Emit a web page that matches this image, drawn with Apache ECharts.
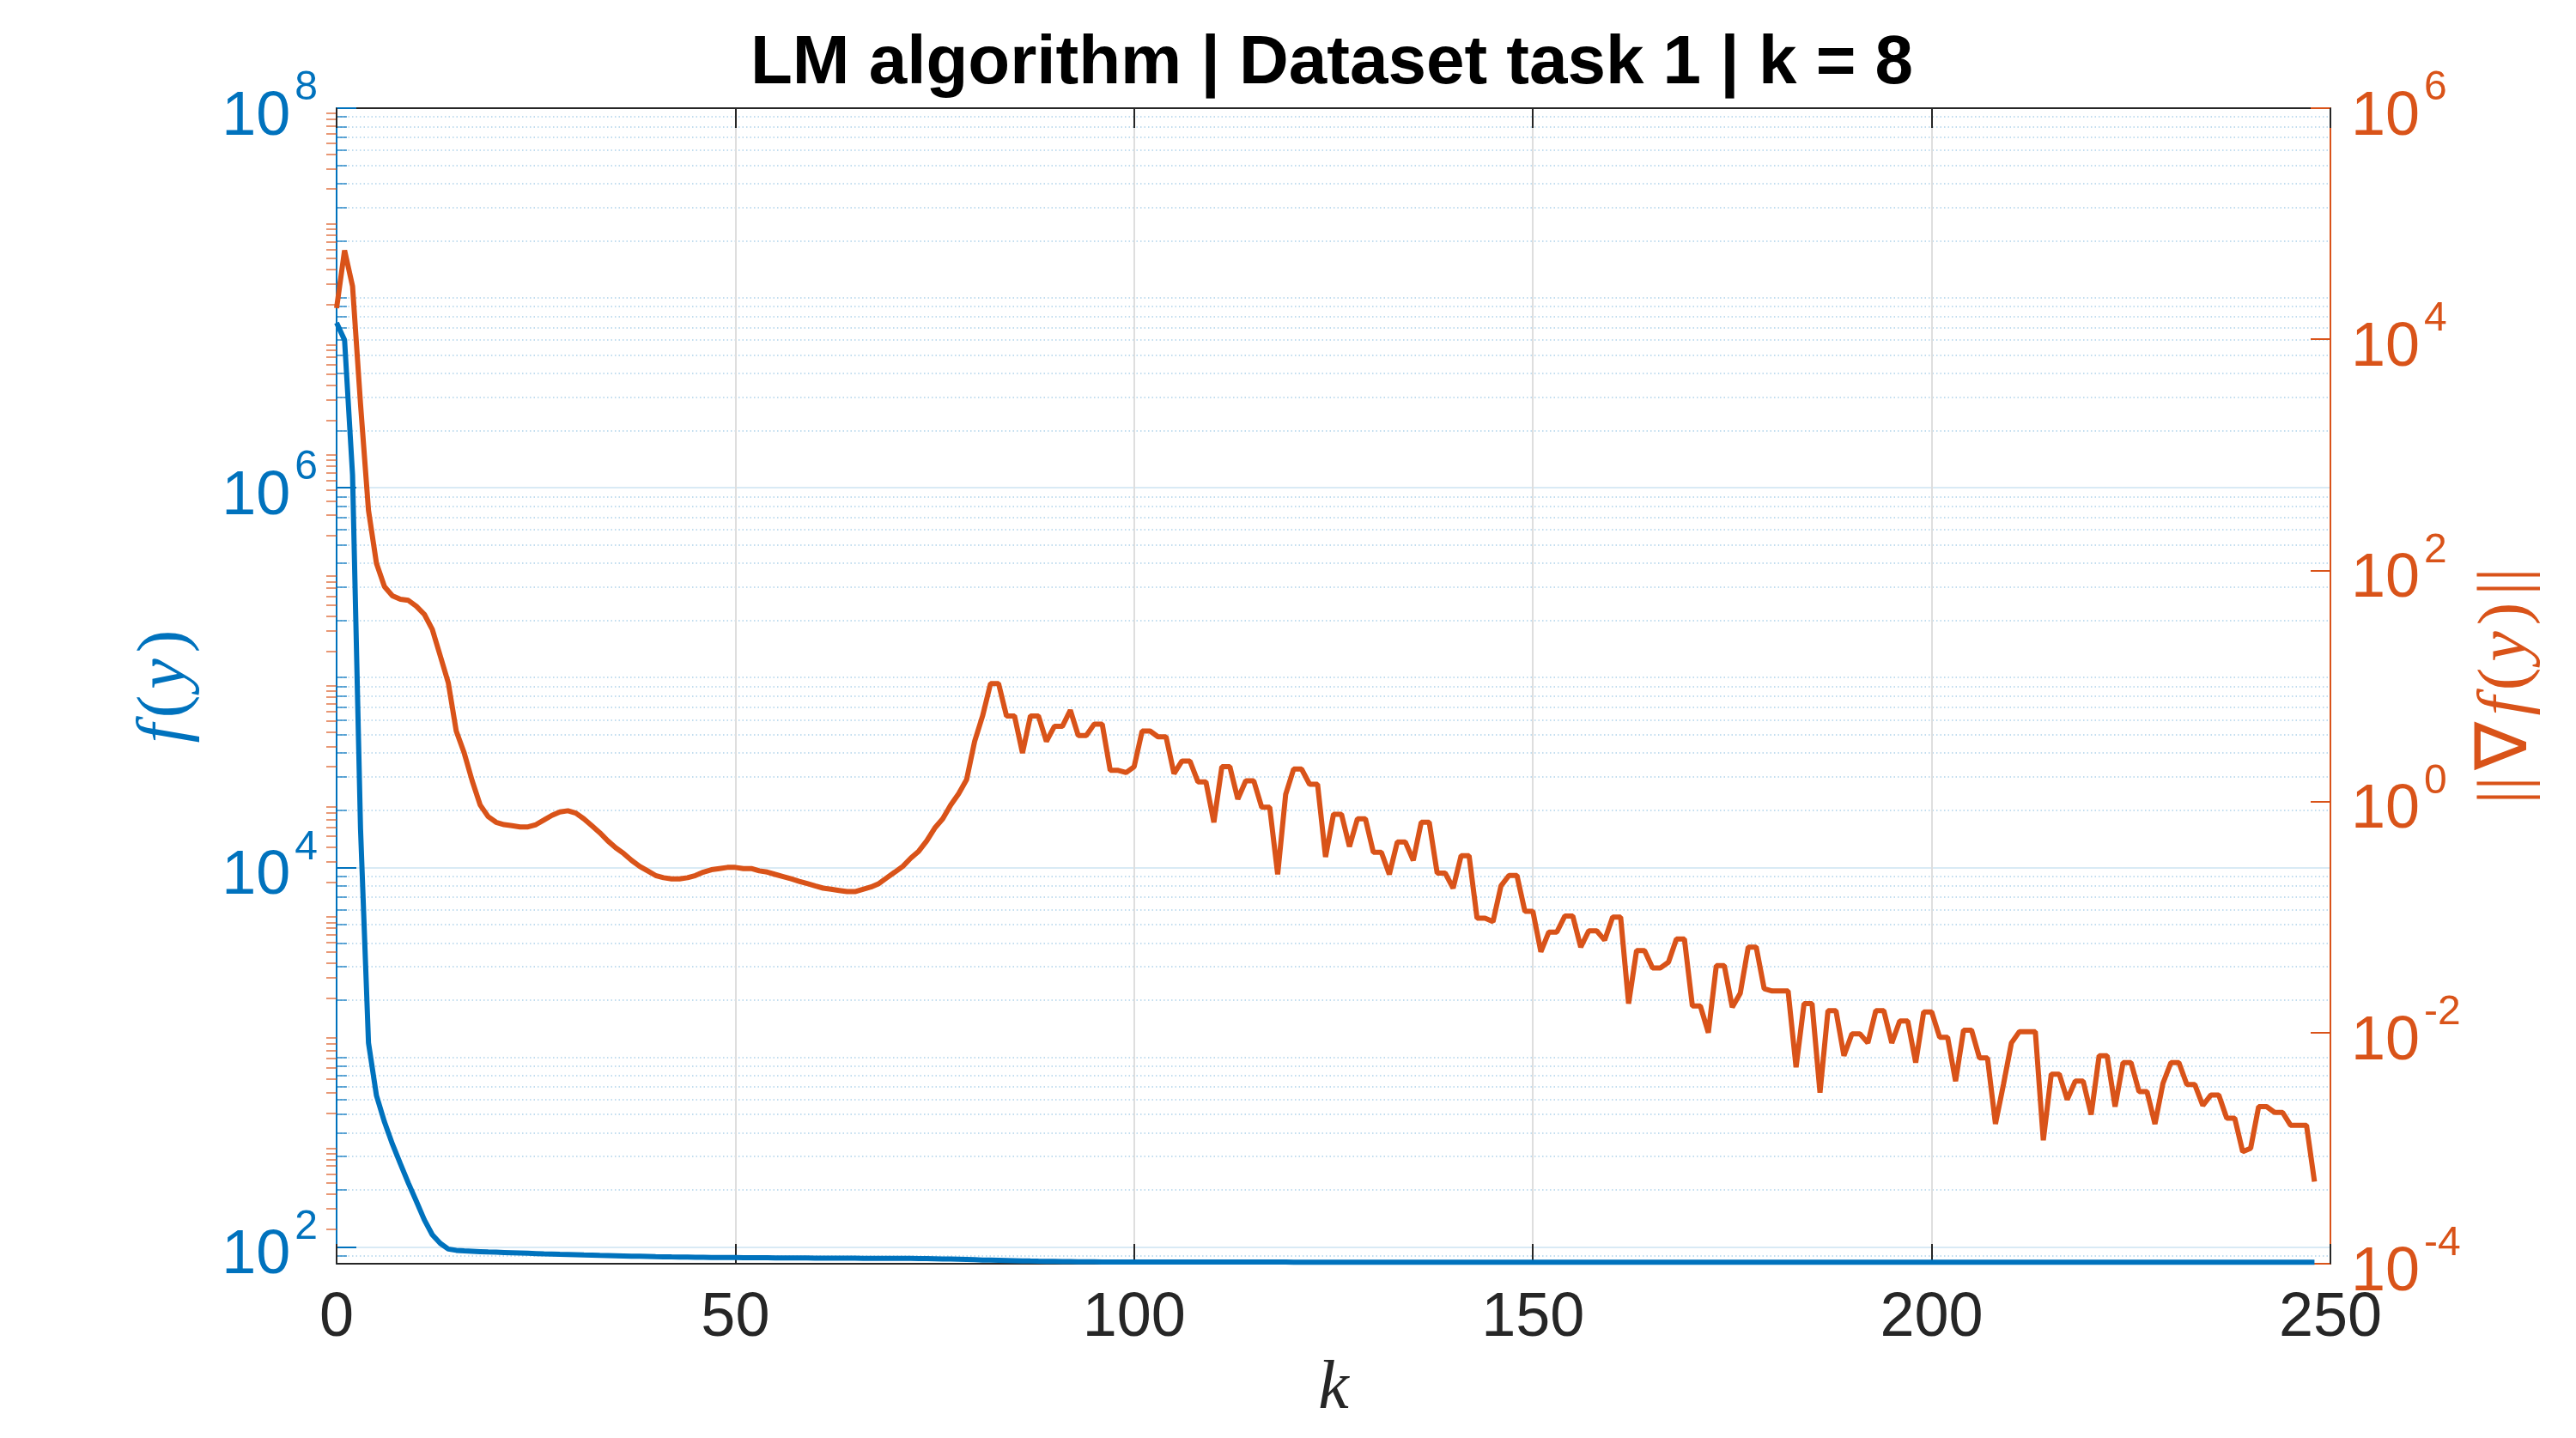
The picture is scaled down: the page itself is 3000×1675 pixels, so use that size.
<!DOCTYPE html>
<html>
<head>
<meta charset="utf-8">
<title>LM algorithm | Dataset task 1 | k = 8</title>
<script src="https://cdn.jsdelivr.net/npm/echarts@6/dist/echarts.min.js"></script>
<style>
  html, body { margin: 0; padding: 0; background: #fff; }
  #chart { width: 3000px; height: 1675px; }
</style>
</head>
<body>
<div id="chart"></div>
<script>
// f(y) per iteratie k = 0..248 (linker as, log)
const fValues = [
  7.4e6, 6.0e6, 1.17e6, 1.6e4, 1190, 627, 456, 348, 274, 217,
  174, 139, 116, 104.5, 97.5, 96.0, 95.3, 94.9, 94.5, 94.1,
  93.8, 93.5, 93.2, 92.9, 92.6, 92.3, 92.0, 91.8, 91.5, 91.3,
  91.1, 90.8, 90.6, 90.3, 90.1, 89.9, 89.7, 89.5, 89.3, 89.1,
  88.9, 88.8, 88.6, 88.5, 88.4, 88.3, 88.2, 88.1, 88.0, 87.9,
  87.9, 87.8, 87.8, 87.7, 87.7, 87.6, 87.6, 87.5, 87.5, 87.5,
  87.4, 87.4, 87.4, 87.3, 87.3, 87.3, 87.2, 87.2, 87.2, 87.1,
  87.1, 87.0, 87.0, 86.9, 86.8, 86.7, 86.5, 86.3, 86.1, 85.9,
  85.7, 85.4, 85.2, 85.0, 84.8, 84.6, 84.4, 84.3, 84.1, 84.0,
  83.9, 83.8, 83.7, 83.6, 83.5, 83.5, 83.4, 83.4, 83.3, 83.3,
  83.3, 83.3, 83.3, 83.3, 83.3, 83.3, 83.3, 83.3, 83.3, 83.3,
  83.3, 83.3, 83.3, 83.3, 83.3, 83.3, 83.3, 83.3, 83.3, 83.3,
  83.2, 83.2, 83.2, 83.2, 83.2, 83.2, 83.2, 83.2, 83.2, 83.2,
  83.2, 83.2, 83.2, 83.2, 83.2, 83.2, 83.2, 83.2, 83.2, 83.2,
  83.2, 83.2, 83.2, 83.2, 83.2, 83.2, 83.2, 83.2, 83.2, 83.2,
  83.2, 83.2, 83.2, 83.2, 83.2, 83.2, 83.2, 83.2, 83.2, 83.2,
  83.1, 83.1, 83.1, 83.1, 83.1, 83.1, 83.1, 83.1, 83.1, 83.1,
  83.1, 83.1, 83.1, 83.1, 83.1, 83.1, 83.1, 83.1, 83.1, 83.1,
  83.1, 83.1, 83.1, 83.1, 83.1, 83.1, 83.1, 83.1, 83.1, 83.1,
  83.1, 83.1, 83.1, 83.1, 83.1, 83.1, 83.1, 83.1, 83.1, 83.1,
  83.0, 83.0, 83.0, 83.0, 83.0, 83.0, 83.0, 83.0, 83.0, 83.0,
  83.0, 83.0, 83.0, 83.0, 83.0, 83.0, 83.0, 83.0, 83.0, 83.0,
  83.0, 83.0, 83.0, 83.0, 83.0, 83.0, 83.0, 83.0, 83.0, 83.0,
  83.0, 83.0, 83.0, 83.0, 83.0, 83.0, 83.0, 83.0, 83.0, 83.0,
  83.0, 83.0, 83.0, 83.0, 83.0, 83.0, 83.0, 83.0, 83.0
];

// ||grad f(y)|| per iteratie (rechter as, log)
const gradValues = [
  18600, 58900, 28800, 2750, 331, 115, 72.4, 60.3, 56.2, 55.0,
  49.0, 41.7, 30.9, 18.2, 10.7, 4.07, 2.63, 1.51, 0.933, 0.741,
  0.661, 0.631, 0.617, 0.603, 0.603, 0.631, 0.692, 0.759, 0.813, 0.832,
  0.794, 0.708, 0.617, 0.537, 0.457, 0.398, 0.355, 0.309, 0.275, 0.251,
  0.229, 0.219, 0.214, 0.214, 0.219, 0.229, 0.245, 0.257, 0.263, 0.269,
  0.269, 0.263, 0.263, 0.251, 0.245, 0.234, 0.224, 0.214, 0.204, 0.195,
  0.186, 0.178, 0.174, 0.170, 0.166, 0.166, 0.174, 0.182, 0.195, 0.219,
  0.245, 0.275, 0.324, 0.372, 0.457, 0.589, 0.708, 0.933, 1.17, 1.55,
  3.31, 5.50, 10.5, 10.5, 5.50, 5.50, 2.63, 5.50, 5.50, 3.31,
  4.47, 4.47, 6.17, 3.72, 3.72, 4.68, 4.68, 1.86, 1.86, 1.78,
  2.00, 4.07, 4.07, 3.63, 3.63, 1.74, 2.24, 2.24, 1.48, 1.48,
  0.661, 2.00, 2.00, 1.05, 1.51, 1.51, 0.891, 0.891, 0.234, 1.15,
  1.91, 1.91, 1.41, 1.41, 0.331, 0.776, 0.776, 0.407, 0.708, 0.708,
  0.363, 0.363, 0.234, 0.447, 0.447, 0.309, 0.661, 0.661, 0.240, 0.240,
  0.178, 0.339, 0.339, 0.0977, 0.0977, 0.0912, 0.186, 0.229, 0.229, 0.112,
  0.112, 0.0501, 0.0741, 0.0741, 0.102, 0.102, 0.0550, 0.0759, 0.0759, 0.0631,
  0.100, 0.100, 0.0178, 0.0513, 0.0513, 0.0363, 0.0363, 0.0407, 0.0646, 0.0646,
  0.0170, 0.0170, 0.0100, 0.0380, 0.0380, 0.0166, 0.0219, 0.0550, 0.0550, 0.0240,
  0.0229, 0.0229, 0.0229, 0.00501, 0.0178, 0.0178, 0.00302, 0.0155, 0.0155, 0.00631,
  0.00977, 0.00977, 0.00813, 0.0155, 0.0155, 0.00813, 0.0126, 0.0126, 0.00550, 0.0151,
  0.0151, 0.00912, 0.00912, 0.00380, 0.0105, 0.0105, 0.00603, 0.00603, 0.00162, 0.00355,
  0.00813, 0.0102, 0.0102, 0.0102, 0.00117, 0.00437, 0.00437, 0.00263, 0.00380, 0.00380,
  0.00195, 0.00631, 0.00631, 0.00229, 0.00550, 0.00550, 0.00309, 0.00309, 0.00162, 0.00363,
  0.00550, 0.00550, 0.00355, 0.00355, 0.00234, 0.00288, 0.00288, 0.00182, 0.00182, 0.000933,
  0.00100, 0.00229, 0.00229, 0.00204, 0.00204, 0.00158, 0.00158, 0.00158, 0.000513
];

// assen
const xTicks = [0, 50, 100, 150, 200, 250];
const leftRange = [81.6, 1e8];
const rightRange = [1e-4, 1e6];
const leftMajor = [1e2, 1e4, 1e6, 1e8];
const rightMajor = [1e-4, 1e-2, 1, 1e2, 1e4, 1e6];

const BLUE = '#0072BD';
const ORANGE = '#D95319';
const DARK = '#262626';
const sans = 'Liberation Sans, Arial, Helvetica, sans-serif';
const serif = 'Liberation Serif, Times New Roman, serif';

// kleine ticks op log-as: m*10^e, zonder de hoofdticks
function minorTicks(range, majors) {
    const out = [];
    const e0 = Math.floor(Math.log10(range[0]));
    const e1 = Math.ceil(Math.log10(range[1]));
    for (let e = e0; e < e1; e++) {
        for (let m = 1; m <= 9; m++) {
            const v = Number((m * Math.pow(10, e)).toPrecision(3));
            if (v < range[0] || v > range[1]) continue;
            if (majors.some(t => Math.abs(t - v) <= t * 1e-9)) continue;
            out.push(v);
        }
    }
    return out;
}

function powLabel(v) {
    const e = Math.round(Math.log10(v));
    return '{b|10}{s|' + e + '}';
}

// "10" onderaan een regel van 94px, exponent bovenaan
function powRich(color) {
    return {
        b: {fontSize: 72, lineHeight: 94, height: 72, fontFamily: sans, color: color, verticalAlign: 'bottom'},
        s: {fontSize: 48, lineHeight: 48, height: 48, fontFamily: sans, color: color, verticalAlign: 'top',
            padding: [0, 0, 0, 5]}
    };
}

function mathRich(color) {
    return {
        i: {fontFamily: serif, fontStyle: 'italic', fontSize: 80, color: color, padding: [0, 3, 0, 3]},
        r: {fontFamily: serif, fontSize: 80, color: color, padding: [0, 4, 0, 4]},
        n: {fontFamily: serif, fontSize: 84, color: color, padding: [0, 4, 0, 4]}
    };
}

const myChart = echarts.init(document.getElementById('chart'), null, {renderer: 'canvas'});

const option = {
    backgroundColor: '#fff',
    animation: false,
    title: {
        text: 'LM algorithm | Dataset task 1 | k = 8',
        left: 869,
        top: 30,
        textStyle: {fontFamily: sans, fontWeight: 'bold', fontSize: 80, color: '#000'}
    },
    grid: {
        left: 392,
        right: 286,
        top: 126,
        bottom: 203,
        containLabel: false
    },
    xAxis: [
        {
            type: 'value',
            position: 'bottom',
            min: xTicks[0],
            max: xTicks[xTicks.length - 1],
            interval: 50,
            axisLine: {show: true, onZero: false, lineStyle: {color: DARK, width: 2}},
            axisTick: {show: true, inside: true, length: 23, lineStyle: {color: DARK, width: 2}},
            axisLabel: {color: DARK, fontFamily: sans, fontSize: 72, margin: 28},
            splitLine: {show: true, lineStyle: {color: '#dedede', width: 2}},
            name: 'k',
            nameLocation: 'middle',
            nameGap: 107,
            nameTextStyle: {fontFamily: serif, fontStyle: 'italic', fontSize: 80, color: DARK}
        },
        {
            // bovenrand van de box
            type: 'value',
            position: 'top',
            min: xTicks[0],
            max: xTicks[xTicks.length - 1],
            interval: 50,
            axisLine: {show: true, onZero: false, lineStyle: {color: DARK, width: 2}},
            axisTick: {show: true, inside: true, length: 23, lineStyle: {color: DARK, width: 2}},
            axisLabel: {show: false},
            splitLine: {show: false}
        }
    ],
    yAxis: [
        {
            type: 'log',
            logBase: 10,
            position: 'left',
            min: leftRange[0],
            max: leftRange[1],
            axisLine: {show: true, onZero: false, lineStyle: {color: BLUE, width: 2}},
            axisTick: {show: true, inside: true, length: 23, customValues: leftMajor, lineStyle: {color: BLUE, width: 2}},
            axisLabel: {customValues: leftMajor, formatter: powLabel, margin: 22, rich: powRich(BLUE)},
            splitLine: {show: true, lineStyle: {color: '#d9eaf5', width: 2}},
            name: '{i|f}{r|(}{i|y}{r|)}',
            nameLocation: 'middle',
            nameRotate: 90,
            nameGap: 158,
            nameMoveOverlap: false,
            nameTextStyle: {color: BLUE, rich: mathRich(BLUE)}
        },
        {
            type: 'log',
            logBase: 10,
            position: 'right',
            min: rightRange[0],
            max: rightRange[1],
            axisLine: {show: true, onZero: false, lineStyle: {color: ORANGE, width: 2}},
            axisTick: {show: true, inside: true, length: 23, customValues: rightMajor, lineStyle: {color: ORANGE, width: 2}},
            axisLabel: {customValues: rightMajor, formatter: powLabel, margin: 24, rich: powRich(ORANGE)},
            splitLine: {show: false},
            name: '{r|||}{n|∇}{i|f}{r|(}{i|y}{r|)}{r|||}',
            nameLocation: 'middle',
            nameRotate: 90,
            nameGap: 164,
            nameMoveOverlap: false,
            nameTextStyle: {color: ORANGE, rich: mathRich(ORANGE)}
        },
        {
            // kleine ticks + stippel-grid links
            type: 'log',
            logBase: 10,
            position: 'left',
            min: leftRange[0],
            max: leftRange[1],
            axisLine: {show: false},
            axisTick: {show: true, inside: true, length: 12, customValues: minorTicks(leftRange, leftMajor),
                lineStyle: {color: 'rgba(0,114,189,0.6)', width: 2}},
            axisLabel: {show: false},
            splitLine: {show: true, lineStyle: {color: 'rgba(0,114,189,0.32)', width: 1.5, type: [1.5, 3]}}
        },
        {
            // kleine ticks rechts
            type: 'log',
            logBase: 10,
            position: 'right',
            min: rightRange[0],
            max: rightRange[1],
            axisLine: {show: false},
            axisTick: {show: true, inside: true, length: 12, customValues: minorTicks(rightRange, rightMajor),
                lineStyle: {color: 'rgba(217,83,25,0.6)', width: 2}},
            axisLabel: {show: false},
            splitLine: {show: false}
        }
    ],
    series: [
        {
            name: 'f(y)',
            type: 'line',
            xAxisIndex: 0,
            yAxisIndex: 0,
            data: fValues.map((v, k) => [k, v]),
            showSymbol: false,
            symbol: 'none',
            silent: true,
            z: 3,
            lineStyle: {color: BLUE, width: 6}
        },
        {
            name: '||grad f(y)||',
            type: 'line',
            xAxisIndex: 0,
            yAxisIndex: 1,
            data: gradValues.map((v, k) => [k, v]),
            showSymbol: false,
            symbol: 'none',
            silent: true,
            z: 4,
            lineStyle: {color: ORANGE, width: 6}
        }
    ]
};

myChart.setOption(option);
</script>
</body>
</html>
